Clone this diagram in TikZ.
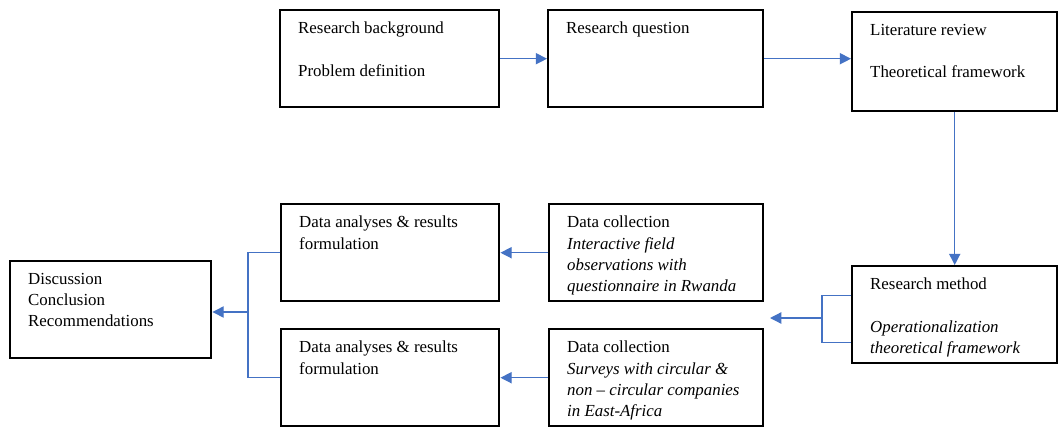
\documentclass[tikz,border=0pt]{standalone}
\usepackage{fontspec}
\setmainfont{Liberation Serif}
\usetikzlibrary{arrows.meta, positioning, calc}
\definecolor{flowblue}{RGB}{68,114,196}
% fixed-size box content, text set at the top left
\newcommand{\boxtext}[3]{\parbox[c][#2][t]{#1}{\fontsize{12}{15}\selectfont\leftskip=0.45cm\rightskip=0pt plus 1fil\relax #3}}

\begin{document}
\begin{tikzpicture}[
		x=0.025cm, y=-0.025cm,
		box/.style = {draw, rectangle, line width=1.7pt, inner xsep=0pt, inner ysep=0.3cm, anchor=north west},
		flow/.style = {draw=flowblue, line width=0.9pt, -{Triangle[length=8pt, width=8pt]}},
		link/.style = {draw=flowblue, line width=0.9pt}
		]
		\useasboundingbox (0,0) rectangle (1060,429);

		\node [box] (bg) at (279,9) {\boxtext{5.475cm}{1.825cm}{Research background\\[15pt]Problem definition}};
		\node [box] (rq) at (547,9) {\boxtext{5.375cm}{1.825cm}{Research question}};
		\node [box] (lit) at (851,11) {\boxtext{5.125cm}{1.875cm}{Literature review\\[15pt]Theoretical framework}};
		\node [box] (rm) at (851,265) {\boxtext{5.125cm}{1.825cm}{Research method\\[15pt]{\itshape Operationalization\\theoretical framework}}};

		\node [box] (dc1) at (548,203) {\boxtext{5.35cm}{1.825cm}{Data collection\\{\itshape Interactive field\\observations with\\questionnaire in Rwanda}}};
		\node [box] (dc2) at (548,328) {\boxtext{5.35cm}{1.825cm}{Data collection\\{\itshape Surveys with circular \&\\non -- circular companies\\in East-Africa}}};
		\node [box] (da1) at (280,203) {\boxtext{5.45cm}{1.825cm}{Data analyses \& results\\formulation}};
		\node [box] (da2) at (280,328) {\boxtext{5.45cm}{1.825cm}{Data analyses \& results\\formulation}};
		\node [box] (disc) at (9,260) {\boxtext{5.025cm}{1.825cm}{Discussion\\Conclusion\\Recommendations}};

		\coordinate (rmsplit) at (822,318);
		\coordinate (rmout) at (770,318);
		\coordinate (dasplit) at (248,312);

		\draw [flow] (bg) -- (rq);
		\draw [flow] (rq.east) -- (rq.east -| lit.west);
		\draw [flow] (lit) -- (rm);

		\draw [link] ($(rm.north west)!0.31!(rm.south west)$) -| (rmsplit) |- ($(rm.north west)!0.78!(rm.south west)$);
		\draw [flow] (rmsplit) -- (rmout);

		\draw [flow] (dc1) -- (da1);
		\draw [flow] (dc2) -- (da2);

		\draw [link] (da1.west) -| (dasplit) |- (da2.west);
		\draw [flow] (dasplit) -- (dasplit -| disc.east);

	\end{tikzpicture}
\end{document}
